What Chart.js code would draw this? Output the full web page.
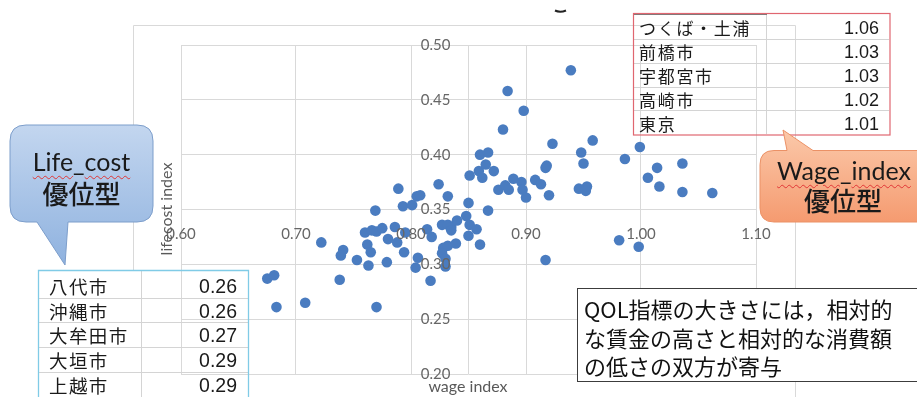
<!DOCTYPE html>
<html><head><meta charset="utf-8">
<script src="https://cdn.jsdelivr.net/npm/chart.js@4.4.1/dist/chart.umd.min.js"></script>
<style>
html,body{margin:0;padding:0;background:#fff;}
#wrap{position:relative;width:917px;height:397px;overflow:hidden;background:#fff;}
#c{position:absolute;left:0;top:0;}
svg{position:absolute;left:0;top:0;}
.t{position:absolute;white-space:nowrap;}
.cjk{font-family:"Noto Sans CJK JP","Noto Sans",sans-serif;color:#1a1a1a;}
.num{font-family:"Liberation Sans",Arial,sans-serif;color:#1a1a1a;}
.lat{font-family:Lato,"Liberation Sans",sans-serif;}
.sq{text-decoration:underline wavy #e03535;text-decoration-thickness:1px;text-underline-offset:4px;}
</style></head>
<body>
<div id="wrap">
<canvas id="c" width="917" height="397"></canvas>
<svg width="917" height="397" xmlns="http://www.w3.org/2000/svg">
  <defs>
    <linearGradient id="gb" x1="0" y1="0" x2="0" y2="1">
      <stop offset="0" stop-color="#c3d6ef"/><stop offset="1" stop-color="#8fb2df"/>
    </linearGradient>
    <linearGradient id="go" x1="0" y1="0" x2="0" y2="1">
      <stop offset="0" stop-color="#fbc9aa"/><stop offset="1" stop-color="#f59b70"/>
    </linearGradient>
  </defs>
  <path d="M133.5,270 V25.5 H795.5 V397" fill="none" stroke="#d9d9d9" stroke-width="1"/>
  <path d="M555,10.5 Q560,13 566,10.5" fill="none" stroke="#222" stroke-width="2"/>
  <!-- right table -->
  <g stroke="#d4d4d4" stroke-width="1">
    <line x1="634" y1="39.5" x2="889" y2="39.5"/>
    <line x1="634" y1="63.5" x2="889" y2="63.5"/>
    <line x1="634" y1="87.5" x2="889" y2="87.5"/>
    <line x1="634" y1="110.5" x2="889" y2="110.5"/>
    <line x1="766.5" y1="14" x2="766.5" y2="134"/>
  </g>
  <line x1="634" y1="14" x2="767" y2="14" stroke="#7a7a7a" stroke-width="2"/>
  <rect x="633.5" y="13.5" width="256.5" height="121.5" fill="none" stroke="#e06670" stroke-width="1.2"/>
  <!-- left table -->
  <g stroke="#d4d4d4" stroke-width="1">
    <line x1="39" y1="298.5" x2="248" y2="298.5"/>
    <line x1="39" y1="322.5" x2="248" y2="322.5"/>
    <line x1="39" y1="347.5" x2="248" y2="347.5"/>
    <line x1="39" y1="372.5" x2="248" y2="372.5"/>
    <line x1="141.5" y1="271" x2="141.5" y2="397"/>
  </g>
  <path d="M38.5,400 V270.5 H248.5 V400" fill="none" stroke="#80cbe6" stroke-width="1.3"/>
  <!-- callouts -->
  <path d="M26,125 H137 Q153,125 153,141 V206 Q153,222 137,222 H68 L65,265 L37,222 H26 Q10,222 10,206 V141 Q10,125 26,125 Z" fill="url(#gb)" stroke="#7d9ecb" stroke-width="1"/>
  <path d="M774,150.5 H787 L783,130 L813,150.5 H940 V222 H774 Q760,222 760,208 V164.5 Q760,150.5 774,150.5 Z" fill="url(#go)" stroke="#eb9166" stroke-width="1"/>
  <rect x="577.5" y="288.5" width="350" height="93" fill="#fff" stroke="#3c3c3c" stroke-width="1"/>
</svg>
<div id="texts"></div>
</div>
<script>
// ---- data ----
const wageIndex = [0.675,0.681,0.683,0.708,0.722,0.738,0.741,0.739,0.753,0.760,
  0.766,0.770,0.775,0.762,0.765,0.763,0.769,0.770,0.780,0.788,
  0.786,0.795,0.794,0.779,0.789,0.793,0.801,0.805,0.808,0.824,
  0.832,0.806,0.804,0.814,0.818,0.817,0.827,0.832,0.835,0.840,
  0.835,0.828,0.832,0.839,0.827,0.830,0.830,0.848,0.851,0.857,
  0.850,0.860,0.867,0.850,0.851,0.859,0.862,0.872,0.860,0.867,
  0.865,0.876,0.882,0.885,0.889,0.896,0.897,0.900,0.908,0.913,
  0.917,0.918,0.920,0.880,0.884,0.898,0.939,0.923,0.917,0.948,
  0.950,0.958,0.946,0.953,0.952,0.981,0.986,0.999,0.998,1.014,
  1.006,1.016,1.036,1.036,1.062];
const lifecostIndex = [0.287,0.290,0.261,0.265,0.320,0.286,0.313,0.308,0.304,0.329,
  0.331,0.330,0.333,0.318,0.311,0.299,0.349,0.261,0.323,0.320,
  0.334,0.329,0.311,0.302,0.369,0.353,0.354,0.362,0.363,0.373,
  0.362,0.306,0.297,0.332,0.325,0.285,0.336,0.336,0.334,0.340,
  0.331,0.315,0.317,0.319,0.310,0.305,0.298,0.344,0.336,0.332,
  0.326,0.318,0.349,0.356,0.381,0.385,0.379,0.385,0.400,0.402,
  0.391,0.368,0.372,0.368,0.378,0.375,0.368,0.361,0.377,0.373,
  0.388,0.390,0.363,0.423,0.458,0.440,0.477,0.410,0.304,0.402,
  0.392,0.413,0.369,0.371,0.367,0.322,0.396,0.407,0.316,0.388,
  0.379,0.371,0.392,0.366,0.365];
const xTickValues = [0.60,0.70,0.80,0.90,1.00,1.10];
const yTickValues = [0.20,0.25,0.30,0.35,0.40,0.45,0.50];
const yAxisCrossing = 0.85;   // vertical axis drawn at wage index 0.85
const xAxisCrossing = 0.34;   // horizontal axis at lifecost index 0.34
const xTitle = "wage index";
const yTitle = "lifecost index";
const lowCostCities = ["八代市","沖縄市","大牟田市","大垣市","上越市"];
const lowCostValues = ["0.26","0.26","0.27","0.29","0.29"];
const highWageCities = ["つくば・土浦","前橋市","宇都宮市","高崎市","東京"];
const highWageValues = ["1.06","1.03","1.03","1.02","1.01"];
const noteLines = ["QOL指標の大きさには，相対的","な賃金の高さと相対的な消費額","の低さの双方が寄与"];

// ---- chart ----
const yLabelGapValue = 18 / 1150; // label gap left of vertical axis, in x units
new Chart(document.getElementById('c'), {
  type: 'scatter',
  data: { datasets: [{
    data: wageIndex.map((x, i) => ({x: x, y: lifecostIndex[i]})),
    backgroundColor: '#4a7cc0', borderColor: '#4a7cc0', borderWidth: 0,
    pointRadius: 5.3, pointHoverRadius: 5.3
  }]},
  options: {
    responsive: false, animation: false, devicePixelRatio: 1, events: [],
    layout: { padding: { left: 181, right: 161, top: 45, bottom: 23 } },
    plugins: { legend: { display: false }, tooltip: { enabled: false } },
    scales: {
      x: {
        type: 'linear', min: 0.6, max: 1.1, position: { y: xAxisCrossing },
        afterBuildTicks: s => {
          s.ticks = xTickValues.concat([yAxisCrossing]).sort((a, b) => a - b).map(v => ({ value: v }));
        },
        grid: { color: '#d9d9d9', lineWidth: 1, drawTicks: false },
        border: { display: false },
        ticks: { padding: 5, z: 1, autoSkip: false, maxRotation: 0,
          font: { family: 'Lato', size: 15 }, color: '#666',
          callback: v => (Math.abs(v - yAxisCrossing) < 1e-9 ? '' : Number(v).toFixed(2)) }
      },
      y: {
        type: 'linear', min: 0.2, max: 0.5, position: { x: yAxisCrossing - yLabelGapValue },
        afterBuildTicks: s => { s.ticks = yTickValues.map(v => ({ value: v })); },
        grid: { color: '#d9d9d9', lineWidth: 1, drawTicks: false },
        border: { display: false },
        ticks: { padding: 0, z: 1, autoSkip: false,
          font: { family: 'Lato', size: 15 }, color: '#666',
          callback: v => Number(v).toFixed(2) }
      }
    }
  }
});

// ---- text overlays ----
const T = document.getElementById('texts');
function add(html, cls, css) {
  const d = document.createElement('div');
  d.className = 't ' + cls;
  d.innerHTML = html;
  Object.assign(d.style, css);
  T.appendChild(d);
  return d;
}
// axis titles
add(xTitle, 'lat', {left: '368px', width: '200px', textAlign: 'center', top: '376px', height: '20px', lineHeight: '20px', fontSize: '16px', color: '#595959'});
add(yTitle, 'lat', {left: '106px', width: '120px', textAlign: 'center', top: '199px', height: '20px', lineHeight: '20px', fontSize: '16px', color: '#595959', transform: 'rotate(-90deg)'});
// right table
highWageCities.forEach((c, i) => {
  const cy = 28 + i * 23.9;
  add(c, 'cjk', {left: '639px', top: (cy - 12) + 'px', height: '24px', lineHeight: '24px', fontSize: '17px', letterSpacing: '1.7px'});
  add(highWageValues[i], 'num', {left: '780px', width: '99px', textAlign: 'right', top: (cy - 12) + 'px', height: '24px', lineHeight: '24px', fontSize: '18px'});
});
// left table
lowCostCities.forEach((c, i) => {
  const cy = 285.8 + i * 24.8;
  add(c, 'cjk', {left: '49px', top: (cy - 12) + 'px', height: '24px', lineHeight: '24px', fontSize: '18.5px', letterSpacing: '1.4px'});
  add(lowCostValues[i], 'num', {left: '140px', width: '97px', textAlign: 'right', top: (cy - 12) + 'px', height: '24px', lineHeight: '24px', fontSize: '19.5px'});
});
// callouts
add('<span class="sq">Life</span>_<span class="sq">cost</span>', 'lat', {left: '10px', width: '143px', textAlign: 'center', top: '147px', height: '28px', lineHeight: '28px', fontSize: '25px', color: '#1a1a1a'});
add('優位型', 'cjk', {left: '10px', width: '143px', textAlign: 'center', top: '178px', height: '30px', lineHeight: '30px', fontSize: '26px', fontWeight: '500', color: '#1a1a1a'});
add('<span class="sq">Wage</span>_<span class="sq">index</span>', 'lat', {left: '760px', width: '168px', textAlign: 'center', top: '156px', height: '28px', lineHeight: '28px', fontSize: '25px', color: '#1a1a1a'});
add('優位型', 'cjk', {left: '760px', width: '166px', textAlign: 'center', top: '185px', height: '30px', lineHeight: '30px', fontSize: '26px', fontWeight: '500', color: '#1a1a1a'});
// note box
noteLines.forEach((l, i) => {
  const cy = 308.3 + i * 28.4;
  add(l, 'cjk', {left: '584px', top: (cy - 14) + 'px', height: '28px', lineHeight: '28px', fontSize: '22px', color: '#111'});
});
</script>
</body></html>
